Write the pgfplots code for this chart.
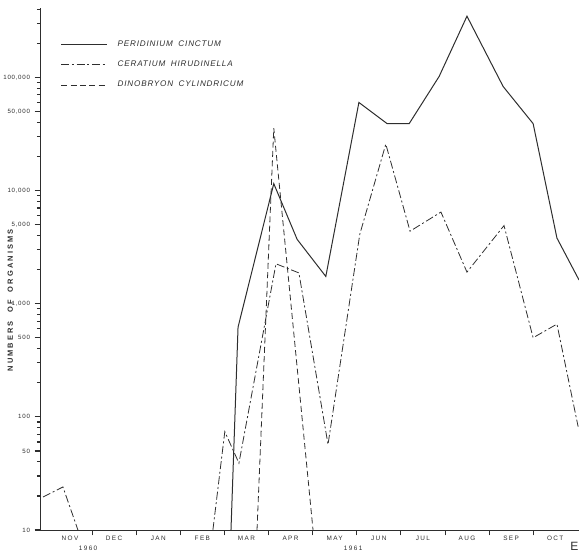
\documentclass[border=0pt]{standalone}
\usepackage{fontspec}
\setmainfont{Liberation Sans}
\newfontfamily\tickfont[LetterSpace=12]{Liberation Sans}
\newfontfamily\monthfont[LetterSpace=22]{Liberation Sans}
\newfontfamily\legfont[LetterSpace=10, WordSpace=1.8]{Liberation Sans}
\newfontfamily\labfont[LetterSpace=28, WordSpace=2]{Liberation Sans}
\usepackage{pgfplots}
\pgfplotsset{compat=1.18}

\definecolor{ink}{HTML}{2E2E2E}

\begin{document}
\begin{tikzpicture}
\begin{axis}[
  name=ax, at={(0,0)}, anchor=south west,
  scale only axis, width=404.25pt, height=391.5pt,
  xmin=-0.18, xmax=12.04,
  ymode=log, ymin=10, ymax=4.1e5,
  axis x line*=bottom, axis y line*=left,
  axis line style={ink, line width=0.6pt, -},
  tick align=outside,
  tick style={ink, line width=0.6pt},
  ytick style={draw=ink, line width=0.9pt},
  major tick length=4pt, minor tick length=2.4pt,
  % ticks at month boundaries, month names in the middle of each month
  xtick={1,2,...,11},
  xticklabels={},
  extra x ticks={0.5,1.5,...,11.5},
  extra x tick labels={NOV,DEC,JAN,FEB,MAR,APR,MAY,JUN,JUL,AUG,SEP,OCT},
  extra x tick style={major tick length=0pt,
     xticklabel style={font=\monthfont\fontsize{4.8}{5}\selectfont, text=ink, yshift=-1pt}},
  ytick={10,50,100,500,1000,5000,10000,50000,100000},
  yticklabels={10,50,100,500,{1,000},{5,000},{10,000},{50,000},{100,000}},
  minor ytick={20,30,40,60,70,80,90,200,300,400,600,700,800,900,
               2000,3000,4000,6000,7000,8000,9000,
               20000,30000,40000,60000,70000,80000,90000,
               200000,300000,400000},
  yticklabel style={font=\tickfont\fontsize{4.6}{5}\selectfont, text=ink},
  ylabel={NUMBERS OF ORGANISMS},
  ylabel style={font=\labfont\bfseries\fontsize{5.6}{6}\selectfont, text=ink,
                at={(axis description cs:-0.055,0.44)}, anchor=center},
  legend style={at={(0.038,0.943)}, anchor=north west, draw=none, fill=none,
                font=\legfont\itshape\fontsize{6.1}{7}\selectfont, text=ink,
                row sep=5.4pt, inner sep=0pt},
  legend cell align=left,
  legend image code/.code={\draw[#1] (0pt,0pt) -- (34pt,0pt); \path (40pt,0pt);},
  clip=false,
]
% Peridinium cinctum
\addplot[ink, line width=0.75pt] coordinates {
  (4.15,10) (4.31,620) (5.12,11500) (5.65,3700) (6.30,1740)
  (7.05,60000) (7.69,39000) (8.19,39000) (8.87,102000) (9.50,347000)
  (10.32,83000) (11.00,39000) (11.54,3800) (12.04,1620)
};
\addlegendentry{PERIDINIUM CINCTUM}
% Ceratium hirundinella
\addplot[ink, line width=0.6pt, dash pattern=on 6pt off 2pt on 1.5pt off 2pt] coordinates {
  (-0.11,19.6) (0.34,24) (0.68,10)
};
\addlegendentry{CERATIUM HIRUDINELLA}
% Dinobryon cylindricum
\addplot[ink, line width=0.6pt, dash pattern=on 4.5pt off 2.5pt] coordinates {
  (4.74,10) (5.12,35600) (6.01,10)
};
\addlegendentry{DINOBRYON CYLINDRICUM}
% Ceratium hirundinella, 1961
\addplot[ink, line width=0.6pt, dash pattern=on 6pt off 2pt on 1.5pt off 2pt, forget plot] coordinates {
  (3.74,10) (4.01,74) (4.33,39) (5.17,2250) (5.69,1870) (6.35,57)
  (7.07,4100) (7.66,25700) (8.21,4370) (8.91,6450) (9.50,1900)
  (10.34,4900) (11.00,500) (11.54,660) (12.02,82)
};
% years under the month names
\node[font=\monthfont\fontsize{4.8}{5}\selectfont, text=ink] at (axis cs:0.91,10) [yshift=-14pt] {1960};
\node[font=\monthfont\fontsize{4.8}{5}\selectfont, text=ink] at (axis cs:6.92,10) [yshift=-14pt] {1961};
\end{axis}
\node[font=\fontsize{9}{9}\selectfont, text=ink, anchor=east, inner sep=0.3pt] at (404.25pt,-12pt) {E};
\pgfresetboundingbox
\path[use as bounding box] (-30pt,-18pt) rectangle (404.25pt,397.5pt);
\end{tikzpicture}
\end{document}
